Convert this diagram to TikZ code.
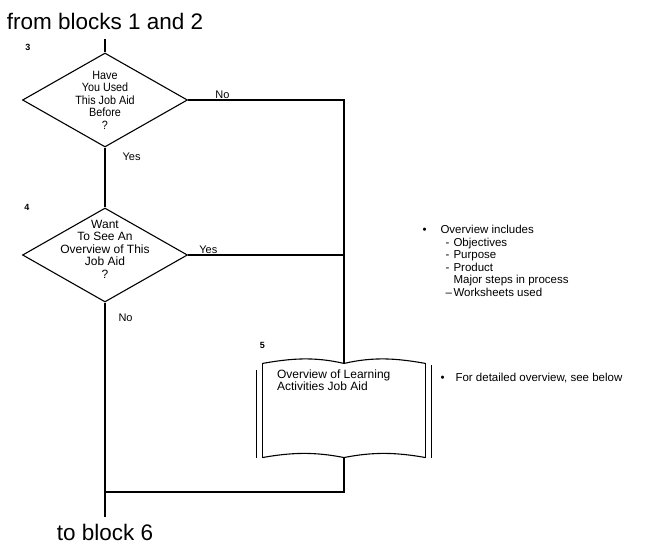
\documentclass[tikz,border=0pt]{standalone}
\usepackage{fontspec}
\setmainfont{Liberation Sans}
\newfontfamily\condfont{Liberation Sans}[FakeStretch=0.9]
\usetikzlibrary{shapes.geometric, positioning}

\begin{document}
\begin{tikzpicture}[
    x=1pt, y=1pt,
    line width=1.1pt,
    decision/.style={draw, diamond, inner sep=0pt,
                     minimum width=165pt, minimum height=94pt},
    qtext/.style={align=center, inner sep=0pt,
                  font=\fontsize{12}{12.5}\selectfont},
    num/.style={inner sep=0pt, font=\fontsize{9}{9}\selectfont\bfseries},
    lbl/.style={inner sep=1pt, font=\fontsize{11}{11}\selectfont},
    big/.style={inner xsep=0pt, font=\fontsize{22.5}{22.5}\selectfont},
    note/.style={align=left, inner sep=0pt,
                 font=\fontsize{11.5}{12.5}\selectfont},
  ]
  \useasboundingbox (0,0) rectangle (646,547);

  % Decisions
  \node[decision] (d3) at (105,447) {};
  \node[qtext, font=\condfont\fontsize{12}{12.5}\selectfont] (q3) at (d3)
       {Have\\You Used\\This Job Aid\\Before\\?};
  \node[decision] (d4) at (105,292) {};
  \node[qtext, yshift=6pt] (q4) at (d4)
       {Want\\To See An\\Overview of This\\Job Aid\\?};

  % Document (open book)
  \node[minimum width=162pt, minimum height=93pt, inner sep=0pt] (book) at (344,136.5) {};
  \node[note, font=\fontsize{12}{12}\selectfont,
        below right=6pt and 14pt of book.north west] (btext)
       {Overview of Learning\\Activities Job Aid};

  % Entry / exit
  \node[big, inner ysep=9pt, above=13pt of d3.north] (from) {from blocks 1 and 2};
  \coordinate (m) at (105,55);
  \coordinate (out) at (105,30);
  \node[big, inner sep=0pt, below=7pt of out] (to) {to block 6};

  % Block numbers
  \node[num, above=49pt of d3.west, xshift=6pt] (n3) {3};
  \node[num, above=44pt of d4.west, xshift=5pt] (n4) {4};
  \node[num, above=14pt of book.north west] (n5) {5};

  % Connectors
  \draw (from) -- (d3);
  \draw (d3) -- node[lbl, pos=0.15, right=16pt] {Yes} (d4);
  \draw (d3.east) -| node[lbl, pos=0.11, above] {No} (book.north);
  \draw (d4.east) -- node[lbl, pos=0.13, above] {Yes} (d4.east -| book.north);
  \draw (d4) -- node[lbl, pos=0.07, right=12pt] {No} (out);
  \draw (book.south) |- (m);

  % Book outline
  \draw (book.north west) .. controls +(28,5) and +(-30,7) .. (book.north)
        .. controls +(30,7) and +(-28,5) .. (book.north east);
  \draw (book.south west) .. controls +(28,5) and +(-30,6) .. (book.south)
        .. controls +(30,6) and +(-28,5) .. (book.south east);
  \draw (book.north west) -- (book.south west);
  \draw (book.north east) -- (book.south east);
  \draw ([shift={(-6pt,-7pt)}]book.north west) -- ([xshift=-6pt]book.south west);
  \draw ([shift={(6pt,-2pt)}]book.north east) -- ([xshift=6pt]book.south east);

  % Notes
  \node[note, anchor=north west] (incl) at (422,322)
       {\makebox[18pt][l]{\textbullet}Overview includes\\
        \hspace*{23pt}\makebox[8pt][l]{-}Objectives\\
        \hspace*{23pt}\makebox[8pt][l]{-}Purpose\\
        \hspace*{23pt}\makebox[8pt][l]{-}Product\\
        \hspace*{31pt}Major steps in process\\
        \hspace*{23pt}\makebox[8pt][l]{--}Worksheets used};
  \node[note, anchor=west] (detail) at (440,169)
       {\makebox[15pt][l]{\textbullet}For detailed overview, see below};
\end{tikzpicture}
\end{document}
